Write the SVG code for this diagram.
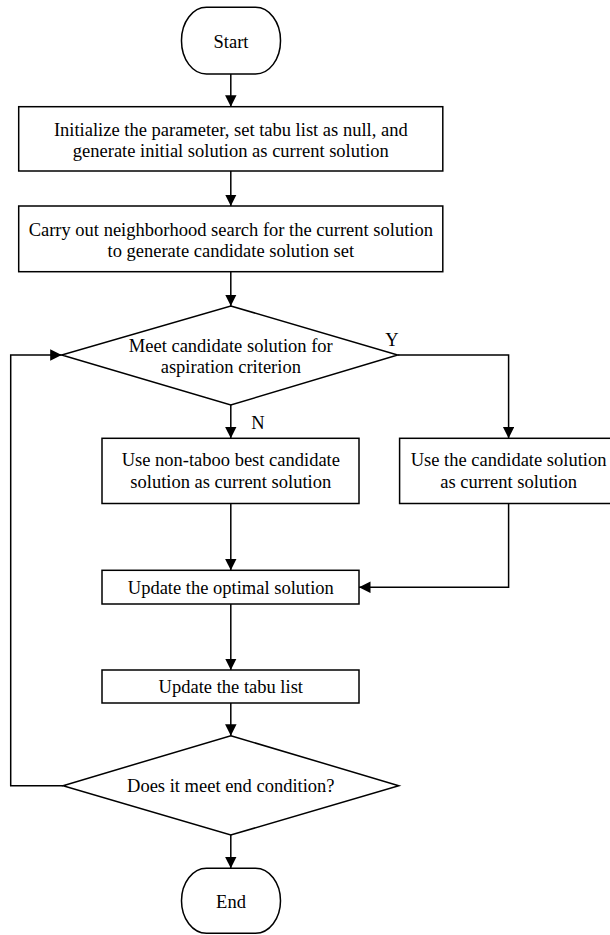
<svg xmlns="http://www.w3.org/2000/svg" width="610" height="935" viewBox="0 0 610 935">
<style>
  .shape { fill: #ffffff; stroke: #000000; stroke-width: 1.5; }
  .conn { fill: none; stroke: #000000; stroke-width: 1.5; }
  text { font-family: "Liberation Serif", "Times New Roman", serif; font-size: 18.5px; fill: #000000; text-anchor: middle; }
</style>
<defs>
  <marker id="arrow" markerUnits="userSpaceOnUse" markerWidth="12" markerHeight="12" refX="11.5" refY="5.75" orient="auto">
    <path d="M0,0 L11.5,5.75 L0,11.5 z" fill="#000000"/>
  </marker>
</defs>
<rect width="610" height="935" fill="#ffffff"/>
<g id="connectors">
  <path class="conn" d="M230.8,74 V106.7" marker-end="url(#arrow)"/>
  <path class="conn" d="M230.8,171 V206" marker-end="url(#arrow)"/>
  <path class="conn" d="M230.8,271.7 V306" marker-end="url(#arrow)"/>
  <path class="conn" d="M230.8,405 V438.3" marker-end="url(#arrow)"/>
  <path class="conn" d="M397.7,355 H508.6 V438.3" marker-end="url(#arrow)"/>
  <path class="conn" d="M230.8,503.5 V570.3" marker-end="url(#arrow)"/>
  <path class="conn" d="M508.6,503.5 V587.3 H359" marker-end="url(#arrow)"/>
  <path class="conn" d="M230.8,604 V670" marker-end="url(#arrow)"/>
  <path class="conn" d="M230.8,703 V735.7" marker-end="url(#arrow)"/>
  <path class="conn" d="M230.8,835 V868.3" marker-end="url(#arrow)"/>
  <path class="conn" d="M63,785.7 H10.7 V355 H61.7" marker-end="url(#arrow)"/>
  <text x="392" y="345.5">Y</text>
  <text x="258" y="428.5">N</text>
</g>
<g id="start">
  <rect class="shape" x="181.5" y="7.3" width="99" height="66.7" rx="25" ry="33"/>
  <text x="231" y="48.2">Start</text>
</g>
<g id="init">
  <rect class="shape" x="18.7" y="106.7" width="424.1" height="64.3"/>
  <text x="230.8" y="135.5">Initialize the parameter, set tabu list as null, and</text>
  <text x="230.8" y="157">generate initial solution as current solution</text>
</g>
<g id="search">
  <rect class="shape" x="18.7" y="206" width="424.1" height="65.7"/>
  <text x="230.8" y="235.5">Carry out neighborhood search for the current solution</text>
  <text x="230.8" y="257">to generate candidate solution set</text>
</g>
<g id="aspiration">
  <polygon class="shape" points="230.8,306 397.7,355 230.8,405 61.7,355"/>
  <text x="230.8" y="351.5">Meet candidate solution for</text>
  <text x="230.8" y="373">aspiration criterion</text>
</g>
<g id="nontaboo">
  <rect class="shape" x="102" y="438.3" width="257" height="65.2"/>
  <text x="230.8" y="465.5">Use non-taboo best candidate</text>
  <text x="230.8" y="487.5">solution as current solution</text>
</g>
<g id="candidate">
  <rect class="shape" x="399.6" y="438.3" width="218" height="65.2"/>
  <text x="508.6" y="465.5">Use the candidate solution</text>
  <text x="508.6" y="487.5">as current solution</text>
</g>
<g id="optimal">
  <rect class="shape" x="102" y="570.3" width="257" height="33.7"/>
  <text x="230.8" y="593.5">Update the optimal solution</text>
</g>
<g id="tabu">
  <rect class="shape" x="102" y="670" width="257" height="33"/>
  <text x="230.8" y="693">Update the tabu list</text>
</g>
<g id="endcond">
  <polygon class="shape" points="230.8,735.7 398.8,785.7 230.8,835 63,785.7"/>
  <text x="230.8" y="792">Does it meet end condition?</text>
</g>
<g id="end">
  <rect class="shape" x="181.5" y="868.3" width="99" height="65" rx="25" ry="32.5"/>
  <text x="231" y="908">End</text>
</g>
</svg>
